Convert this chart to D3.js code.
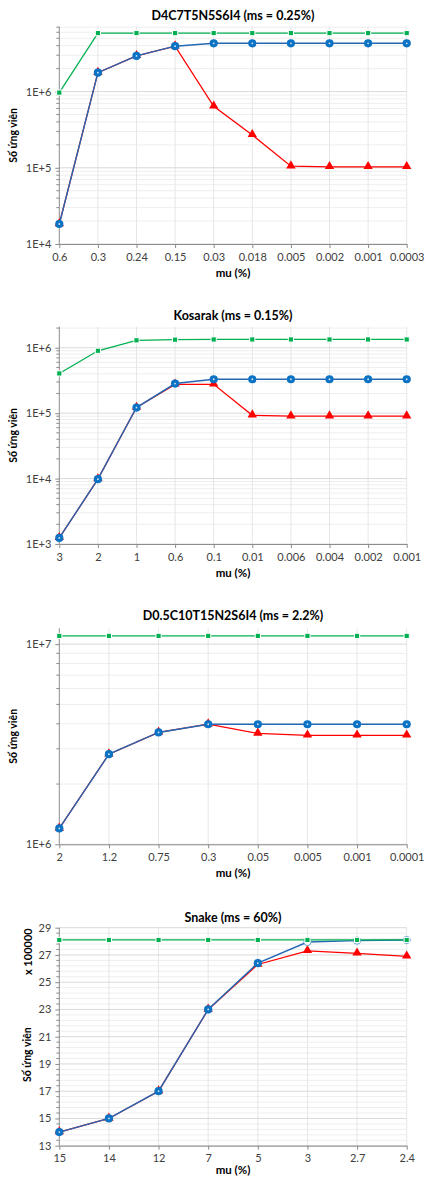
<!DOCTYPE html>
<html>
<head>
<meta charset="utf-8">
<script src="https://cdn.jsdelivr.net/npm/d3@7"></script>
<style>
  body { margin: 0; background: #fff; }
  svg { display: block; }
</style>
</head>
<body>
<div id="chart"></div>
<script>
// Du lieu tung bieu do
const cats1 = ["0.6", "0.3", "0.24", "0.15", "0.03", "0.018", "0.005", "0.002", "0.001", "0.0003"];
const green1 = [9.7e5, 5.85e6, 5.85e6, 5.85e6, 5.85e6, 5.85e6, 5.85e6, 5.85e6, 5.85e6, 5.85e6];
const blue1 = [1.83e4, 1.77e6, 2.94e6, 3.94e6, 4.3e6, 4.3e6, 4.3e6, 4.3e6, 4.3e6, 4.3e6];
const red1 = [1.83e4, 1.77e6, 2.94e6, 3.94e6, 6.4e5, 2.7e5, 1.05e5, 1.03e5, 1.03e5, 1.03e5];

const cats2 = ["3", "2", "1", "0.6", "0.1", "0.01", "0.006", "0.004", "0.002", "0.001"];
const green2 = [4.05e5, 9.0e5, 1.3e6, 1.33e6, 1.34e6, 1.34e6, 1.34e6, 1.34e6, 1.34e6, 1.34e6];
const blue2 = [1.24e3, 9.8e3, 1.22e5, 2.84e5, 3.3e5, 3.3e5, 3.3e5, 3.3e5, 3.3e5, 3.3e5];
const red2 = [1.24e3, 9.8e3, 1.22e5, 2.76e5, 2.76e5, 9.3e4, 9.0e4, 9.0e4, 9.0e4, 9.0e4];

const cats3 = ["2", "1.2", "0.75", "0.3", "0.05", "0.005", "0.001", "0.0001"];
const green3 = [1.1e7, 1.1e7, 1.1e7, 1.1e7, 1.1e7, 1.1e7, 1.1e7, 1.1e7];
const blue3 = [1.2e6, 2.82e6, 3.62e6, 3.98e6, 3.98e6, 3.98e6, 3.98e6, 3.98e6];
const red3 = [1.2e6, 2.82e6, 3.62e6, 3.98e6, 3.58e6, 3.5e6, 3.5e6, 3.5e6];

const cats4 = ["15", "14", "12", "7", "5", "3", "2.7", "2.4"];
const green4 = [28.1, 28.1, 28.1, 28.1, 28.1, 28.1, 28.1, 28.1];
const blue4 = [14.0, 15.0, 17.0, 23.0, 26.4, 27.95, 28.05, 28.1];
const red4 = [14.0, 15.0, 17.0, 23.0, 26.3, 27.3, 27.12, 26.9];

const W = 425, H = 1178;
const FONT = "Lato, 'Liberation Sans', sans-serif";

const svg = d3.select("#chart").append("svg")
    .attr("width", W)
    .attr("height", H);

const panels = [
    { title: "D4C7T5N5S6I4 (ms = 0.25%)", cats: cats1, green: green1, blue: blue1, red: red1,
      type: "log", domain: [1e4, 7.1e6], top: 26.7, bottom: 244, titleY: 20, muY: 277 },
    { title: "Kosarak (ms = 0.15%)", cats: cats2, green: green2, blue: blue2, red: red2,
      type: "log", domain: [1e3, 2.1e6], top: 326.7, bottom: 544, titleY: 320, muY: 577 },
    { title: "D0.5C10T15N2S6I4 (ms = 2.2%)", cats: cats3, green: green3, blue: blue3, red: red3,
      type: "log", domain: [1e6, 1.2e7], top: 628.3, bottom: 844.3, titleY: 620, muY: 877 },
    { title: "Snake (ms = 60%)", cats: cats4, green: green4, blue: blue4, red: red4,
      type: "linear", domain: [13, 29], top: 927.7, bottom: 1145.7, titleY: 922, muY: 1174, hollowFrom: 5 }
];

const left = 59.3, right = 406.7;

panels.forEach(p => drawPanel(p));

function drawPanel(p) {
    const g = svg.append("g");

    const x = d3.scalePoint().domain(p.cats).range([left, right]).padding(0);
    let y, major, minor, fmt;
    if (p.type === "log") {
        y = d3.scaleLog().domain(p.domain).range([p.bottom, p.top]);
        const all = y.ticks(20).filter(v => v >= p.domain[0] && v <= p.domain[1] * 1.0001);
        major = all.filter(v => Math.abs(Math.log10(v) - Math.round(Math.log10(v))) < 1e-9);
        minor = all.filter(v => major.indexOf(v) < 0);
        fmt = v => "1E+" + Math.round(Math.log10(v));
    } else {
        y = d3.scaleLinear().domain(p.domain).range([p.bottom, p.top]);
        major = d3.range(p.domain[0], p.domain[1] + 0.01, 2);
        minor = d3.range(p.domain[0], p.domain[1] + 0.01, 0.4).filter(v => Math.abs((v - p.domain[0]) % 2) > 0.01 && Math.abs((v - p.domain[0]) % 2 - 2) > 0.01);
        fmt = v => String(v);
    }

    // Luoi phu
    g.selectAll(".minorGrid").data(minor).enter().append("line")
        .attr("x1", left).attr("x2", right)
        .attr("y1", d => y(d)).attr("y2", d => y(d))
        .attr("stroke", "#eeeeee").attr("stroke-width", 1);
    // Luoi doc
    g.selectAll(".vGrid").data(p.cats.slice(1)).enter().append("line")
        .attr("x1", d => x(d)).attr("x2", d => x(d))
        .attr("y1", p.top).attr("y2", p.bottom)
        .attr("stroke", "#e6e6e6").attr("stroke-width", 1);
    // Luoi chinh
    g.selectAll(".majorGrid").data(major).enter().append("line")
        .attr("x1", left).attr("x2", right)
        .attr("y1", d => y(d)).attr("y2", d => y(d))
        .attr("stroke", "#d9d9d9").attr("stroke-width", 1);

    // Truc Y
    const yAxis = g.append("g").attr("transform", `translate(${left},0)`)
        .call(d3.axisLeft(y).tickValues(major).tickFormat(fmt).tickSize(4).tickSizeOuter(0).tickPadding(4));
    yAxis.select(".domain").attr("stroke", "#8c8c8c").attr("d", `M0,${p.top}V${p.bottom}`);
    yAxis.selectAll(".tick line").attr("stroke", "#8c8c8c");
    yAxis.selectAll(".tick text").style("font-family", FONT).style("font-size", "11px").attr("fill", "#404040");
    g.selectAll(".minorTick").data(minor).enter().append("line")
        .attr("x1", left - 3).attr("x2", left)
        .attr("y1", d => y(d)).attr("y2", d => y(d))
        .attr("stroke", "#8c8c8c").attr("stroke-width", 1);

    // Truc X
    const xAxis = g.append("g").attr("transform", `translate(0,${p.bottom})`)
        .call(d3.axisBottom(x).tickSize(4).tickSizeOuter(0).tickPadding(5));
    xAxis.select(".domain").attr("stroke", "#8c8c8c");
    xAxis.selectAll(".tick line").attr("stroke", "#8c8c8c");
    xAxis.selectAll(".tick text").style("font-family", FONT).style("font-size", "11px").attr("fill", "#404040");

    // Tieu de
    g.append("text")
        .attr("x", (left + right) / 2).attr("y", p.titleY)
        .attr("text-anchor", "middle")
        .style("font-family", FONT).style("font-size", "12.5px").style("font-weight", "700")
        .attr("fill", "#000")
        .text(p.title);

    g.append("text")
        .attr("x", (left + right) / 2).attr("y", p.muY)
        .attr("text-anchor", "middle")
        .style("font-family", FONT).style("font-size", "11.5px").style("font-weight", "700")
        .attr("fill", "#000")
        .text("mu (%)");

    const midY = (p.top + p.bottom) / 2;
    if (p.type === "log") {
        g.append("text")
            .attr("transform", `translate(17,${midY}) rotate(-90)`)
            .attr("text-anchor", "middle")
            .style("font-family", FONT).style("font-size", "10.5px").style("font-weight", "700")
            .text("Số ứng viên");
    } else {
        g.append("text")
            .attr("transform", `translate(31,${midY + 18}) rotate(-90)`)
            .attr("text-anchor", "middle")
            .style("font-family", FONT).style("font-size", "10.5px").style("font-weight", "700")
            .text("Số ứng viên");
        g.append("text")
            .attr("transform", `translate(32,${p.top + 24}) rotate(-90)`)
            .attr("text-anchor", "middle")
            .style("font-family", FONT).style("font-size", "11px").style("font-weight", "700")
            .text("x 100000");
    }

    const line = d3.line().x((d, i) => x(p.cats[i])).y(d => y(d));

    // Do (tam giac)
    g.append("path").datum(p.red).attr("d", line)
        .attr("fill", "none").attr("stroke", "#ff0000").attr("stroke-width", 1.3);
    g.selectAll(".redPt").data(p.red).enter().append("path")
        .attr("d", d3.symbol(d3.symbolTriangle, 38))
        .attr("transform", (d, i) => `translate(${x(p.cats[i])},${y(d) - 0.5})`)
        .attr("fill", "#ff0000");

    // Xanh duong (tron)
    const hollow = i => p.hollowFrom !== undefined && i >= p.hollowFrom;
    g.append("path").datum(p.blue).attr("d", line)
        .attr("fill", "none").attr("stroke", "#2468b4").attr("stroke-width", 1.4);
    g.selectAll(".bluePt").data(p.blue).enter().append("circle")
        .attr("cx", (d, i) => x(p.cats[i])).attr("cy", d => y(d))
        .attr("r", (d, i) => hollow(i) ? 3.6 : 4.1)
        .attr("fill", (d, i) => hollow(i) ? "#fff" : "#0b72c4")
        .attr("stroke", (d, i) => hollow(i) ? "#5b9bd5" : "none")
        .attr("stroke-width", 1);
    g.selectAll(".blueDot").data(p.blue).enter().filter((d, i) => !hollow(i)).append("circle")
        .attr("cx", (d, i) => x(p.cats[i]))
        .attr("cy", d => y(d))
        .attr("r", 0.9).attr("fill", "#cfe3f5");

    // Xanh la (vuong)
    g.append("path").datum(p.green).attr("d", line)
        .attr("fill", "none").attr("stroke", "#00b050").attr("stroke-width", 1.3);
    g.selectAll(".greenPt").data(p.green).enter().append("rect")
        .attr("x", (d, i) => x(p.cats[i]) - 2.6).attr("y", d => y(d) - 2.6)
        .attr("width", 5.2).attr("height", 5.2)
        .attr("fill", "#00b050").attr("stroke", "#fff").attr("stroke-width", 1);
}
</script>
</body>
</html>
